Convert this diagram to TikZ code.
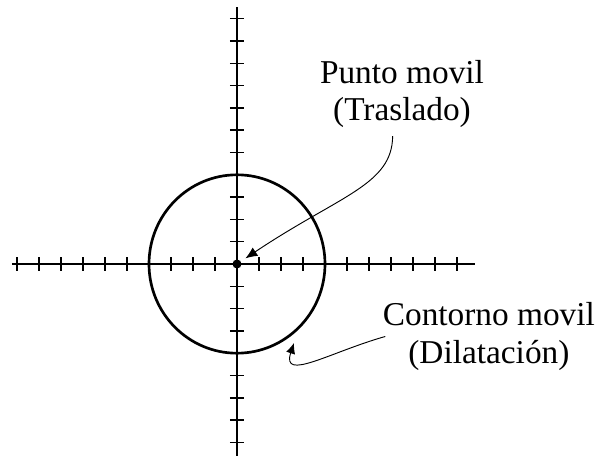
\documentclass[tikz,border=0pt]{standalone}
\usepackage{fontspec}
\setmainfont{Liberation Serif}
\usetikzlibrary{arrows.meta}
\tikzset{
  axis/.style={line width=1.2pt},
  tick/.style={line width=1.1pt},
  contour/.style={line width=2pt},
  lbl/.style={align=center, inner sep=1pt, font=\fontsize{25}{28}\selectfont},
  pointer/.style={-{Latex[length=9pt,width=7.5pt]}, line width=0.7pt},
  smallpointer/.style={-{Latex[length=8pt,width=7pt]}, line width=0.7pt}
}
\begin{document}
\begin{tikzpicture}[x=16.5pt, y=16.725pt]
      \useasboundingbox (-10.773,-8.610) rectangle (16.682,11.839);
      \draw[axis] (-10.23,0) -- (10.8,0);
      \draw[axis] (0,-8.7) -- (0,11.52);
      \foreach \i in {-10,...,-1,1,2,...,10}
        \draw[tick] (\i,-0.3) -- (\i,0.3);
      \foreach \j in {-8,...,-1,1,2,...,11}
        \draw[tick] (-0.32,\j) -- (0.32,\j);
      \draw[contour] (0,0) circle (4);
      \node[circle, fill, inner sep=0pt, minimum size=6.75pt] (dot) at (0,0) {};
      \node[lbl] (punto) at (7.5,7.62) {Punto movil\\(Traslado)};
      \node[lbl] (contorno) at (11.45,-3.25) {Contorno movil\\(Dilatación)};
      \coordinate (tip) at (2.59,-3.54);
      \draw[pointer, shorten >=4pt] ([xshift=-7pt,yshift=-5pt]punto.south)
        .. controls (7.05,3.54) and (4.68,3.09) .. (dot);
      \draw[smallpointer] ([xshift=3pt]contorno.west)
        .. controls (4.23,-3.95) and (2.0,-5.3) .. (tip);
    \end{tikzpicture}
\end{document}
